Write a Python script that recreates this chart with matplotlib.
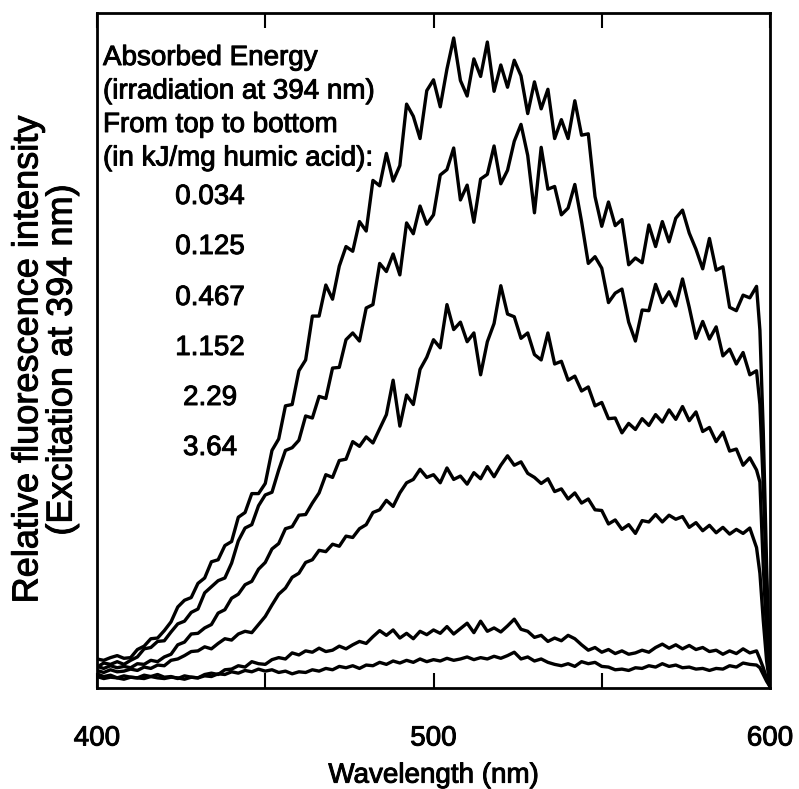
import matplotlib
matplotlib.use("Agg")
import matplotlib.pyplot as plt
import matplotlib.patheffects as pe

# ---------------- data ----------------
wavelength = list(range(400, 597, 2)) + [597, 598, 599, 600]

energy_labels = ["0.034", "0.125", "0.467", "1.152", "2.29", "3.64"]

c034 = [4.3, 4.1, 4.5, 4.8, 4.4, 4.5, 5.7, 6.2, 7.3, 7.4, 8.5, 9.8, 12.0, 13.0, 13.4, 15.5, 16.3, 18.7, 19.0, 21.1, 21.7, 25.3, 26.0, 28.8, 28.8,
        30.3, 35.2, 36.9, 41.8, 42.0, 47.0, 48.6, 55.1, 55.1, 59.7, 57.6, 62.5, 65.4, 64.7, 69.1, 67.7, 75.2, 74.4, 79.2, 75.1, 77.4, 86.5, 84.7, 81.4, 88.5,
        90.1, 86.1, 91.7, 96.3, 90.0, 87.7, 93.2, 90.6, 95.7, 88.4, 92.3, 89.0, 93.0, 90.7, 85.1, 89.8, 85.8, 88.7, 81.4, 84.2, 81.4, 87.0, 81.9, 82.1, 72.8,
        68.4, 72.0, 68.5, 69.4, 62.7, 63.7, 63.0, 68.6, 65.4, 69.1, 66.1, 69.6, 70.8, 67.4, 65.0, 62.1, 66.6, 61.9, 62.4, 56.4, 55.9, 58.2, 57.8, 59.5,
        53.0, 38.0, 18.0, 0.5]

c125 = [3.1, 3.7, 3.5, 3.9, 3.5, 4.1, 4.6, 5.8, 6.0, 6.9, 7.0, 8.3, 9.5, 9.9, 11.2, 11.7, 14.1, 15.0, 15.9, 16.3, 18.5, 21.8, 23.7, 24.2, 27.0,
        28.6, 29.0, 32.3, 35.2, 35.6, 36.7, 40.3, 40.0, 43.2, 42.9, 47.4, 47.5, 51.6, 52.6, 51.4, 56.3, 56.8, 62.9, 61.7, 64.3, 61.2, 68.9, 67.3, 71.4, 68.7,
        70.1, 76.0, 76.8, 80.0, 72.3, 74.5, 69.0, 75.4, 76.1, 80.3, 74.7, 76.7, 81.0, 83.5, 78.9, 70.4, 80.1, 73.9, 74.3, 70.1, 71.1, 74.6, 69.1, 62.9, 63.9,
        62.2, 57.1, 58.5, 59.1, 54.2, 51.4, 56.0, 55.9, 59.8, 57.1, 58.7, 56.6, 60.6, 56.4, 51.8, 54.3, 51.7, 53.5, 49.2, 50.2, 48.0, 49.7, 46.4, 47.0,
        42.0, 30.0, 15.0, 0.5]

c467 = [3.2, 2.9, 3.3, 3.0, 3.2, 3.0, 3.6, 3.5, 4.1, 3.9, 4.6, 5.0, 6.4, 6.8, 8.0, 8.1, 8.9, 9.4, 11.1, 11.6, 13.3, 13.9, 15.3, 15.8, 17.6,
        18.6, 20.6, 21.4, 23.6, 23.9, 25.6, 25.7, 27.4, 28.9, 31.6, 31.2, 33.7, 33.9, 36.5, 35.8, 37.2, 36.3, 38.4, 40.5, 45.6, 38.8, 43.4, 42.0, 47.2, 49.0,
        51.6, 50.4, 56.8, 53.1, 54.2, 51.3, 52.6, 46.4, 51.3, 54.0, 59.6, 55.4, 55.0, 51.8, 52.6, 49.4, 48.6, 52.6, 48.0, 48.4, 45.6, 46.2, 44.0, 44.6, 41.8,
        42.3, 39.9, 40.0, 37.8, 39.2, 38.3, 39.9, 38.9, 40.5, 39.4, 41.2, 39.8, 41.7, 39.6, 40.9, 38.0, 38.6, 36.5, 37.9, 35.1, 35.4, 33.0, 34.1, 32.3,
        30.5, 18.0, 8.0, 0.5]

c1152 = [2.6, 2.3, 2.7, 2.4, 2.5, 2.8, 2.6, 3.1, 2.9, 3.4, 3.3, 4.1, 4.3, 4.8, 5.4, 5.5, 6.1, 5.8, 6.6, 7.3, 7.1, 8.0, 8.4, 8.2, 9.4,
         10.6, 12.3, 13.9, 14.8, 16.4, 17.0, 18.6, 19.0, 20.4, 20.2, 21.3, 21.0, 22.5, 22.3, 23.6, 24.2, 26.0, 26.4, 27.8, 26.9, 28.9, 30.4, 30.9, 32.4, 31.2,
         31.6, 30.4, 32.6, 30.9, 31.4, 30.2, 31.9, 31.0, 32.8, 31.3, 33.0, 34.4, 33.0, 33.5, 31.8, 31.2, 30.3, 31.0, 29.1, 29.5, 28.0, 28.9, 27.4, 28.0, 26.4,
         26.3, 24.3, 24.9, 23.5, 24.2, 22.9, 24.8, 24.6, 25.7, 24.6, 25.6, 25.0, 25.4, 23.8, 24.5, 23.3, 24.1, 23.0, 23.8, 22.8, 23.5, 22.9, 23.7, 20.8,
         17.0, 10.0, 4.0, 0.3]

c229 = [2.1, 1.7, 1.9, 1.5, 1.8, 1.6, 1.5, 1.9, 1.7, 2.0, 1.6, 1.7, 1.4, 1.8, 1.6, 1.5, 2.0, 2.2, 2.0, 2.7, 2.8, 3.3, 3.1, 3.9, 3.6,
        3.5, 4.2, 4.5, 4.3, 5.2, 4.9, 5.5, 5.3, 5.9, 5.4, 5.6, 6.2, 5.8, 6.4, 6.9, 6.6, 7.6, 8.5, 7.8, 8.6, 7.4, 8.1, 7.3, 8.4, 7.9,
        8.6, 8.1, 9.1, 8.0, 8.8, 9.6, 8.2, 9.9, 8.4, 8.9, 8.3, 9.2, 10.2, 8.7, 8.4, 7.5, 7.8, 6.9, 7.4, 7.0, 7.8, 7.3, 6.4, 5.6, 6.0,
        5.3, 5.7, 5.1, 5.5, 5.0, 5.2, 5.6, 5.3, 6.0, 6.5, 5.9, 6.4, 5.8, 6.3, 5.7, 6.0, 5.4, 5.6, 5.0, 5.5, 5.1, 5.8, 5.2, 5.5,
        4.3, 3.0, 1.4, 0.2]

c364 = [1.7, 1.4, 1.6, 1.5, 1.3, 1.6, 1.5, 1.4, 1.7, 1.5, 1.4, 1.6, 1.5, 1.3, 1.6, 1.5, 1.8, 1.7, 2.1, 2.0, 2.4, 2.2, 2.6, 2.4, 2.8,
        2.5, 2.7, 2.3, 2.5, 2.1, 2.4, 2.3, 2.7, 2.5, 2.9, 2.7, 3.2, 3.0, 3.3, 2.9, 3.4, 3.3, 3.8, 3.5, 4.0, 3.7, 4.1, 3.8, 4.3, 3.9,
        4.2, 4.0, 4.4, 4.1, 4.3, 4.6, 4.2, 4.5, 4.3, 4.7, 4.4, 4.8, 5.3, 4.3, 4.6, 4.0, 4.3, 3.8, 3.5, 3.3, 3.6, 3.2, 3.9, 3.6, 3.8,
        3.2, 3.1, 2.7, 2.8, 2.6, 3.0, 2.9, 3.3, 3.1, 3.6, 3.2, 3.4, 3.0, 3.1, 2.8, 2.9, 2.6, 2.9, 2.8, 3.3, 3.1, 3.7, 3.5, 3.4,
        3.0, 2.0, 1.0, 0.2]

series = [c034, c125, c467, c1152, c229, c364]

x_ticks = [400, 450, 500, 550, 600]
x_tick_labels = ["400", "", "500", "", "600"]

header_lines = ["Absorbed Energy", "(irradiation at 394 nm)",
                "From top to bottom", "(in kJ/mg humic acid):"]

# ---------------- figure ----------------
plt.rcParams['font.family'] = ['Liberation Sans', 'DejaVu Sans']
heavy = [pe.withStroke(linewidth=0.7, foreground='black')]

W, H = 799, 789
fig = plt.figure(figsize=(W / 100, H / 100), dpi=100)
ax_l, ax_r, ax_t, ax_b = 97, 770, 13, 688
ax = fig.add_axes([ax_l / W, (H - ax_b) / H, (ax_r - ax_l) / W, (ax_b - ax_t) / H])

for s in series:
    ax.plot(wavelength, s, color='black', lw=2.4, solid_joinstyle='round',
            solid_capstyle='round')

ax.set_xlim(400, 600)
ax.set_ylim(0, 100)
ax.set_xticks(x_ticks)
ax.set_xticklabels(x_tick_labels)
ax.set_yticks([])
ax.tick_params(axis='x', direction='in', top=True, bottom=True,
               length=11, width=1.5, labelsize=20, pad=27)
for lab in ax.get_xticklabels():
    lab.set_path_effects(heavy)
for sp in ax.spines.values():
    sp.set_linewidth(2.0)

ax.set_xlabel("Wavelength (nm)", fontsize=20, labelpad=8, path_effects=heavy)

fig.text(45 / W, (H - 360) / H,
         "Relative fluorescence intensity\n(Excitation at 394 nm)",
         rotation=90, ha='center', va='center', multialignment='center',
         fontsize=26, linespacing=0.97, path_effects=heavy)

def ax_frac(px, py):
    return (px - ax_l) / (ax_r - ax_l), (ax_b - py) / (ax_b - ax_t)

header_baselines = [65, 98.5, 132, 165.5]
for line, by in zip(header_lines, header_baselines):
    fx, fy = ax_frac(103, by)
    ax.text(fx, fy, line, transform=ax.transAxes, ha='left', va='baseline',
            fontsize=20, path_effects=heavy)

label_baselines = [204, 254, 305, 355, 405, 455]
for lab, by in zip(energy_labels, label_baselines):
    fx, fy = ax_frac(210, by)
    ax.text(fx, fy, lab, transform=ax.transAxes, ha='center', va='baseline',
            fontsize=20, path_effects=heavy)

fig.savefig("out.png", dpi=100)
